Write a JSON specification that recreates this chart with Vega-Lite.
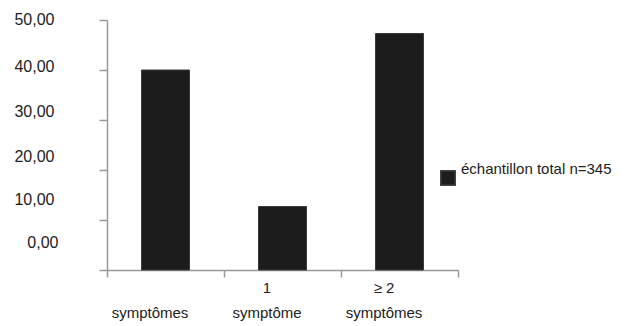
{
  "$schema": "https://vega.github.io/schema/vega-lite/v6.json",
  "width": 351,
  "height": 250,
  "autosize": {"type": "none"},
  "padding": {"left": 107, "top": 20, "right": 166, "bottom": 56},
  "background": "white",
  "config": {"view": {"stroke": null}, "font": "Liberation Sans"},
  "data": {
    "values": [
      {"categorie": "symptômes", "pourcentage": 40.0, "serie": "échantillon total n=345"},
      {"categorie": "1 symptôme", "pourcentage": 12.7, "serie": "échantillon total n=345"},
      {"categorie": "≥ 2 symptômes", "pourcentage": 47.3, "serie": "échantillon total n=345"}
    ]
  },
  "mark": {"type": "bar", "width": {"band": 0.41}, "stroke": "#3a3a3a", "strokeWidth": 1},
  "encoding": {
    "x": {
      "field": "categorie",
      "type": "nominal",
      "sort": null,
      "scale": {"paddingInner": 0, "paddingOuter": 0},
      "axis": {
        "title": null,
        "tickBand": "extent",
        "domainColor": "#999999",
        "domainWidth": 1.5,
        "tickColor": "#999999",
        "tickWidth": 1.5,
        "tickSize": 7,
        "labelAngle": 0,
        "labelFontSize": 15,
        "labelColor": "#222222",
        "labelPadding": 3,
        "labelLineHeight": 25,
        "labelOffset": -16,
        "labelBaseline": "top",
        "labelLimit": 0,
        "labelExpr": "datum.label == '1 symptôme' ? ['1', 'symptôme'] : datum.label == '≥ 2 symptômes' ? ['≥ 2', 'symptômes'] : datum.label == 'symptômes' ? [' ', 'symptômes'] : ''"
      }
    },
    "y": {
      "field": "pourcentage",
      "type": "quantitative",
      "scale": {"domain": [0, 50]},
      "axis": {
        "title": null,
        "values": [0, 10, 20, 30, 40, 50],
        "grid": false,
        "domainColor": "#999999",
        "domainWidth": 1.5,
        "tickColor": "#999999",
        "tickWidth": 1.5,
        "tickSize": 8,
        "labelPadding": {"expr": "datum.value == 0 ? 41 : 45"},
        "labelOffset": {"expr": "datum.value == 0 ? -28 : datum.value == 10 ? -21 : datum.value == 20 ? -14 : datum.value == 30 ? -9 : datum.value == 40 ? -4 : -1"},
        "labelFontSize": 16,
        "labelColor": "#222222",
        "labelBaseline": "middle",
        "labelExpr": "replace(format(datum.value, '.2f'), '.', ',')"
      }
    },
    "color": {
      "field": "serie",
      "type": "nominal",
      "scale": {"range": ["#1c1c1c"]},
      "legend": {
        "title": null,
        "orient": "none",
        "legendX": 333,
        "legendY": 150,
        "symbolType": "square",
        "symbolSize": 210,
        "symbolStrokeColor": "#444444",
        "labelFontSize": 15,
        "labelColor": "#222222",
        "labelOffset": 5,
        "labelLimit": 0,
        "padding": 0,
        "encode": {"labels": {"update": {"dy": {"value": -9}}}}
      }
    }
  }
}
